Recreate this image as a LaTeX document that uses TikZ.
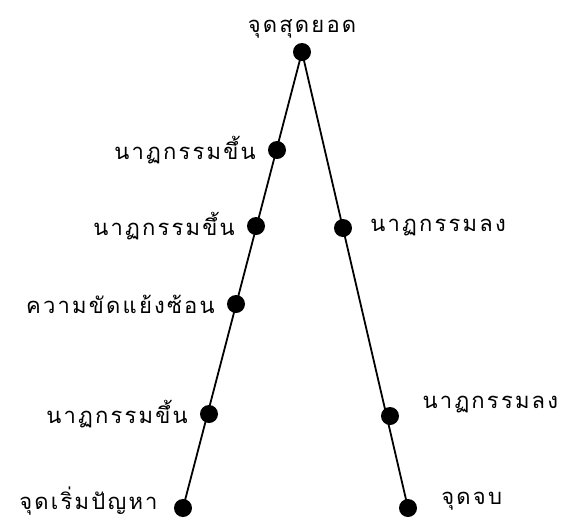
\documentclass[tikz,border=0pt]{standalone}
\usepackage{fontspec}
\newfontfamily\thaifont[Script=Thai, LetterSpace=10]{Loma}
\usetikzlibrary{positioning}
\tikzset{
  pdot/.style  = {circle, fill=black, inner sep=0pt, minimum size=18pt},
  plabel/.style = {font=\thaifont\fontsize{22}{25}\selectfont, inner sep=2pt},
  link/.style  = {draw=black, line width=1.8pt},
}
\begin{document}
\begin{tikzpicture}[x=1pt, y=-1pt]
    \useasboundingbox (0,0) rectangle (568,520);

    % plot points
    \node[pdot] (top) at (302, 52)  {};
    \node[pdot] (l1)  at (277, 150) {};
    \node[pdot] (l2)  at (256, 226) {};
    \node[pdot] (l3)  at (236, 304) {};
    \node[pdot] (l4)  at (209, 414) {};
    \node[pdot] (l5)  at (183, 508) {};
    \node[pdot] (r1)  at (343, 228) {};
    \node[pdot] (r2)  at (390, 416) {};
    \node[pdot] (r3)  at (408, 508) {};

    \draw[link] (top.center) -- (l5.center);
    \draw[link] (top.center) -- (r3.center);

    \node[plabel, above=2pt of top]      (tclimax) {จุดสุดยอด};
    \node[plabel, left=10pt of l1]       (tl1) {นาฏกรรมขึ้น};
    \node[plabel, left=10pt of l2]       (tl2) {นาฏกรรมขึ้น};
    \node[plabel, left=10pt of l3]       (tl3) {ความขัดแย้งซ้อน};
    \node[plabel, left=10pt of l4]       (tl4) {นาฏกรรมขึ้น};
    \node[plabel, left=14pt of l5, yshift=7pt]  (tl5) {จุดเริ่มปัญหา};
    \node[plabel, right=16pt of r1]      (tr1) {นาฏกรรมลง};
    \node[plabel, above right=-6pt and 24pt of r2] (tr2) {นาฏกรรมลง};
    \node[plabel, right=22pt of r3, yshift=7pt] (tr3) {จุดจบ};
\end{tikzpicture}
\end{document}
